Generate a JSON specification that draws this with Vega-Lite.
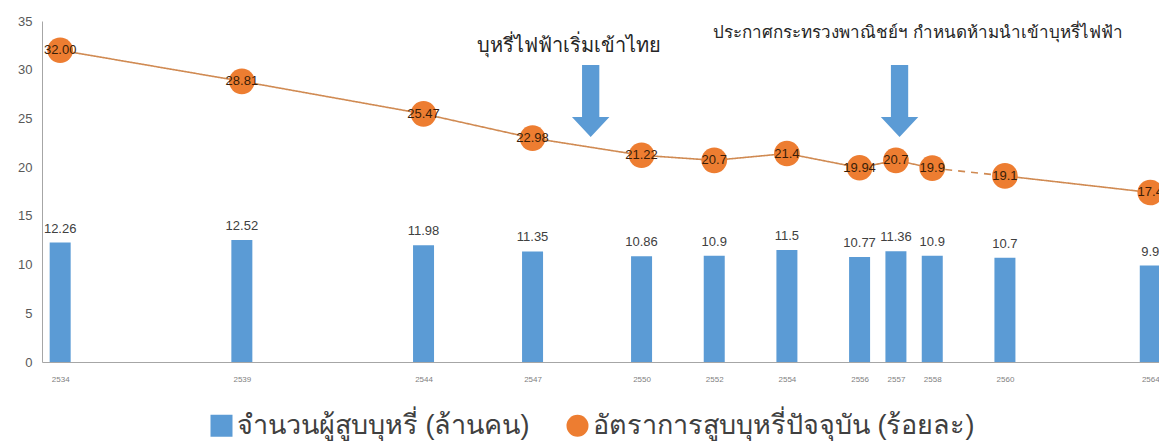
{
  "$schema": "https://vega.github.io/schema/vega-lite/v6.json",
  "autosize": {"type": "none"},
  "width": 1117,
  "height": 341,
  "padding": {"left": 42, "top": 21, "right": 0, "bottom": 79},
  "background": "white",
  "config": {
    "view": {"stroke": null},
    "font": "Liberation Sans",
    "axisX": {"ticks": false, "grid": false, "domainColor": "#a6a6a6", "labelFontSize": 8, "labelColor": "#7f7f7f", "labelPadding": 13, "labelFlush": false},
    "axisY": {"ticks": false, "grid": false, "domainColor": "#a6a6a6", "labelFontSize": 13, "labelColor": "#595959", "labelPadding": 10}
  },
  "datasets": {
    "main": [
      {"year": 2534, "count": 12.26, "countLabel": "12.26", "rate": 32.00, "rateLabel": "32.00"},
      {"year": 2539, "count": 12.52, "countLabel": "12.52", "rate": 28.81, "rateLabel": "28.81"},
      {"year": 2544, "count": 11.98, "countLabel": "11.98", "rate": 25.47, "rateLabel": "25.47"},
      {"year": 2547, "count": 11.35, "countLabel": "11.35", "rate": 22.98, "rateLabel": "22.98"},
      {"year": 2550, "count": 10.86, "countLabel": "10.86", "rate": 21.22, "rateLabel": "21.22"},
      {"year": 2552, "count": 10.9, "countLabel": "10.9", "rate": 20.7, "rateLabel": "20.7"},
      {"year": 2554, "count": 11.5, "countLabel": "11.5", "rate": 21.4, "rateLabel": "21.4"},
      {"year": 2556, "count": 10.77, "countLabel": "10.77", "rate": 19.94, "rateLabel": "19.94"},
      {"year": 2557, "count": 11.36, "countLabel": "11.36", "rate": 20.7, "rateLabel": "20.7"},
      {"year": 2558, "count": 10.9, "countLabel": "10.9", "rate": 19.9, "rateLabel": "19.9"},
      {"year": 2560, "count": 10.7, "countLabel": "10.7", "rate": 19.1, "rateLabel": "19.1"},
      {"year": 2564, "count": 9.9, "countLabel": "9.9", "rate": 17.4, "rateLabel": "17.4"}
    ],
    "line": [
      {"year": 2534, "rate": 32.00, "seg": "a", "style": "solid"},
      {"year": 2539, "rate": 28.81, "seg": "a", "style": "solid"},
      {"year": 2544, "rate": 25.47, "seg": "a", "style": "solid"},
      {"year": 2547, "rate": 22.98, "seg": "a", "style": "solid"},
      {"year": 2550, "rate": 21.22, "seg": "a", "style": "solid"},
      {"year": 2552, "rate": 20.7, "seg": "a", "style": "solid"},
      {"year": 2554, "rate": 21.4, "seg": "a", "style": "solid"},
      {"year": 2556, "rate": 19.94, "seg": "a", "style": "solid"},
      {"year": 2557, "rate": 20.7, "seg": "a", "style": "solid"},
      {"year": 2558, "rate": 19.9, "seg": "a", "style": "solid"},
      {"year": 2558, "rate": 19.9, "seg": "b", "style": "dashed"},
      {"year": 2560, "rate": 19.1, "seg": "b", "style": "dashed"},
      {"year": 2560, "rate": 19.1, "seg": "c", "style": "solid"},
      {"year": 2564, "rate": 17.4, "seg": "c", "style": "solid"}
    ],
    "arrows": [
      {"year": 2548.6, "value": 26.8},
      {"year": 2557.1, "value": 26.8}
    ],
    "notes": [
      {"year": 2548.0, "value": 32.4, "text": "บุหรี่ไฟฟ้าเริ่มเข้าไทย", "kind": "big"},
      {"year": 2557.6, "value": 33.8, "text": "ประกาศกระทรวงพาณิชย์ฯ กำหนดห้ามนำเข้าบุหรี่ไฟฟ้า", "kind": "small"}
    ]
  },
  "layer": [
    {
      "data": {"name": "main"},
      "mark": {"type": "bar", "size": 21, "color": "#5B9BD5", "clip": true},
      "encoding": {
        "x": {"field": "year", "type": "quantitative", "title": null,
              "scale": {"domain": [2533.5, 2564.24], "nice": false, "zero": false, "padding": 0},
              "axis": {"values": [2534, 2539, 2544, 2547, 2550, 2552, 2554, 2556, 2557, 2558, 2560, 2564], "format": "d"}},
        "y": {"field": "count", "type": "quantitative", "title": null,
              "scale": {"domain": [0, 35], "nice": false},
              "axis": {"values": [0, 5, 10, 15, 20, 25, 30, 35]}},
        "color": {"datum": "จำนวนผู้สูบบุหรี่ (ล้านคน)", "type": "nominal",
                  "scale": {"domain": ["จำนวนผู้สูบบุหรี่ (ล้านคน)", "อัตราการสูบบุหรี่ปัจจุบัน (ร้อยละ)"], "range": ["#5B9BD5", "#ED7D31"]},
                  "legend": {"title": null, "orient": "none", "legendX": 166, "legendY": 391, "direction": "horizontal",
                             "labelFontSize": 27, "labelColor": "#404040", "symbolSize": 484, "symbolOpacity": 1,
                             "columnPadding": 34, "labelOffset": 2, "labelLimit": 600}}
      }
    },
    {
      "data": {"name": "main"},
      "mark": {"type": "text", "fontSize": 13, "color": "#404040", "baseline": "bottom", "dy": -7, "clip": true},
      "encoding": {
        "x": {"field": "year", "type": "quantitative", "title": null},
        "y": {"field": "count", "type": "quantitative", "title": null},
        "text": {"field": "countLabel"}
      }
    },
    {
      "data": {"name": "line"},
      "mark": {"type": "line", "color": "#D08A52", "strokeWidth": 1.6, "clip": true},
      "encoding": {
        "x": {"field": "year", "type": "quantitative", "title": null},
        "y": {"field": "rate", "type": "quantitative", "title": null},
        "detail": {"field": "seg"},
        "strokeDash": {"field": "style", "type": "nominal", "scale": {"domain": ["solid", "dashed"], "range": [[1, 0], [7, 6]]}, "legend": null}
      }
    },
    {
      "data": {"name": "main"},
      "mark": {"type": "point", "filled": true, "opacity": 1, "size": 660, "clip": true},
      "encoding": {
        "x": {"field": "year", "type": "quantitative", "title": null},
        "y": {"field": "rate", "type": "quantitative", "title": null},
        "color": {"datum": "อัตราการสูบบุหรี่ปัจจุบัน (ร้อยละ)", "type": "nominal"},
        "shape": {"datum": "อัตราการสูบบุหรี่ปัจจุบัน (ร้อยละ)", "type": "nominal",
                  "scale": {"domain": ["จำนวนผู้สูบบุหรี่ (ล้านคน)", "อัตราการสูบบุหรี่ปัจจุบัน (ร้อยละ)"], "range": ["square", "circle"]}}
      }
    },
    {
      "data": {"name": "main"},
      "mark": {"type": "text", "fontSize": 13, "color": "#3a1d08", "baseline": "middle", "align": "center", "clip": true},
      "encoding": {
        "x": {"field": "year", "type": "quantitative", "title": null},
        "y": {"field": "rate", "type": "quantitative", "title": null},
        "text": {"field": "rateLabel"}
      }
    },
    {
      "data": {"name": "arrows"},
      "mark": {"type": "point", "filled": true, "opacity": 1, "color": "#5B9BD5", "size": 5184,
               "shape": "M-0.24,-1L0.24,-1L0.24,0.45L0.52,0.45L0,1L-0.52,0.45L-0.24,0.45Z"},
      "encoding": {
        "x": {"field": "year", "type": "quantitative", "title": null},
        "y": {"field": "value", "type": "quantitative", "title": null}
      }
    },
    {
      "data": {"name": "notes"},
      "transform": [{"filter": "datum.kind === 'big'"}],
      "mark": {"type": "text", "fontSize": 20, "color": "#262626", "align": "center", "baseline": "middle"},
      "encoding": {
        "x": {"field": "year", "type": "quantitative", "title": null},
        "y": {"field": "value", "type": "quantitative", "title": null},
        "text": {"field": "text"}
      }
    },
    {
      "data": {"name": "notes"},
      "transform": [{"filter": "datum.kind === 'small'"}],
      "mark": {"type": "text", "fontSize": 17, "color": "#262626", "align": "center", "baseline": "middle"},
      "encoding": {
        "x": {"field": "year", "type": "quantitative", "title": null},
        "y": {"field": "value", "type": "quantitative", "title": null},
        "text": {"field": "text"}
      }
    }
  ]
}
